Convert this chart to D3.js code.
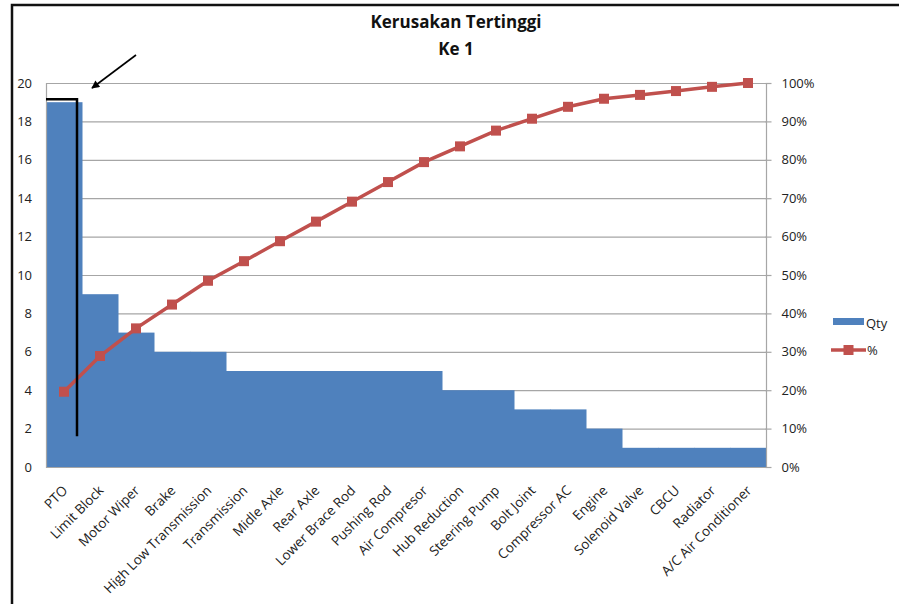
<!DOCTYPE html>
<html>
<head>
<meta charset="utf-8">
<script src="https://cdn.jsdelivr.net/npm/d3@7/dist/d3.min.js"></script>
<style>
  html, body { margin: 0; padding: 0; background: #fff; }
  svg { display: block; font-family: "Open Sans", Lato, sans-serif; }
</style>
</head>
<body>
<svg id="chart" width="899" height="604"></svg>
<script>
// Damage categories, sorted by occurrence (Pareto order)
const categories = [
  "PTO", "Limit Block", "Motor Wiper", "Brake", "High Low Transmission",
  "Transmission", "Midle Axle", "Rear Axle", "Lower Brace Rod", "Pushing Rod",
  "Air Compresor", "Hub Reduction", "Steering Pump", "Bolt Joint", "Compressor AC",
  "Engine", "Solenoid Valve", "CBCU", "Radiator", "A/C Air Conditioner"
];
// Number of occurrences per category
const qty = [19, 9, 7, 6, 6, 5, 5, 5, 5, 5, 5, 4, 4, 3, 3, 2, 1, 1, 1, 1];
// Cumulative share (%)
const cumPct = [19.6, 28.9, 36.1, 42.3, 48.5, 53.6, 58.8, 63.9, 69.1, 74.2,
                79.4, 83.5, 87.6, 90.7, 93.8, 95.9, 96.9, 97.9, 99.0, 100];
const qtyTicks = [0, 2, 4, 6, 8, 10, 12, 14, 16, 18, 20];
const pctTicks = [0, 10, 20, 30, 40, 50, 60, 70, 80, 90, 100];
const titleLines = ["Kerusakan Tertinggi", "Ke 1"];
const legendLabels = ["Qty", "%"];

const BAR = "#4F81BD", LINE = "#C0504D", GRID = "#A6A6A6", TXT = "#222";
const FS = 13;

const svg = d3.select("#chart");
const plot = { left: 46, right: 766, top: 83, bottom: 467 };

// Outer frame (top and left edges)
svg.append("path")
  .attr("d", "M12,604 V5 H899")
  .attr("fill", "none").attr("stroke", "#111").attr("stroke-width", 2.5);

const x = d3.scaleBand().domain(categories).range([plot.left, plot.right]).padding(0);
const yL = d3.scaleLinear().domain([0, 20]).range([plot.bottom, plot.top]);
const yR = d3.scaleLinear().domain([0, 100]).range([plot.bottom, plot.top]);

// Horizontal gridlines
svg.append("g").selectAll("line").data(qtyTicks.filter(d => d > 0)).join("line")
  .attr("x1", plot.left).attr("x2", plot.right)
  .attr("y1", d => yL(d) + 0.5).attr("y2", d => yL(d) + 0.5)
  .attr("stroke", GRID).attr("stroke-width", 1.2);

// Bars
svg.append("g").selectAll("rect").data(qty).join("rect")
  .attr("x", (d, i) => x(categories[i]))
  .attr("width", x.bandwidth() + 0.5)
  .attr("y", d => yL(d))
  .attr("height", d => plot.bottom - yL(d))
  .attr("fill", BAR);

// Left axis line and baseline
svg.append("line").attr("x1", plot.left + 0.5).attr("x2", plot.left + 0.5)
  .attr("y1", plot.top).attr("y2", plot.bottom + 1)
  .attr("stroke", GRID).attr("stroke-width", 1.2);
svg.append("line").attr("x1", plot.left).attr("x2", plot.right)
  .attr("y1", plot.bottom + 0.5).attr("y2", plot.bottom + 0.5)
  .attr("stroke", GRID).attr("stroke-width", 1.2);

// Left axis labels
const axL = svg.append("g").attr("transform", `translate(${plot.left - 14},0)`)
  .call(d3.axisLeft(yL).tickValues(qtyTicks).tickSize(0).tickPadding(0));
axL.select(".domain").remove();
axL.selectAll("text").attr("font-size", FS).attr("fill", TXT)
  .attr("font-family", "'Open Sans', sans-serif");

// Right axis
const axR = svg.append("g").attr("transform", `translate(${plot.right + 0.5},0)`)
  .call(d3.axisRight(yR).tickValues(pctTicks).tickSize(5).tickPadding(10)
    .tickFormat(d => d + "%"));
axR.select(".domain").attr("stroke", GRID).attr("stroke-width", 1.2)
  .attr("d", `M0,${plot.top}V${plot.bottom + 1}`);
axR.selectAll(".tick line").attr("stroke", GRID).attr("stroke-width", 1.2)
  .attr("x1", -1);
axR.selectAll("text").attr("font-size", FS).attr("fill", TXT)
  .attr("font-family", "'Open Sans', sans-serif");

// Category labels, rotated
svg.append("g").selectAll("text").data(categories).join("text")
  .attr("transform", d => `translate(${x(d) + x.bandwidth() / 2 + 1},${plot.bottom + 21}) rotate(-45)`)
  .attr("text-anchor", "end")
  .attr("dy", "0.35em")
  .attr("font-size", 13.5).attr("fill", TXT)
  .text(d => d);

// Cumulative percentage line
const line = d3.line()
  .x((d, i) => x(categories[i]) + x.bandwidth() / 2)
  .y(d => yR(d));
svg.append("path").datum(cumPct)
  .attr("d", line).attr("fill", "none")
  .attr("stroke", LINE).attr("stroke-width", 3.5);
svg.append("g").selectAll("rect").data(cumPct).join("rect")
  .attr("x", (d, i) => x(categories[i]) + x.bandwidth() / 2 - 5)
  .attr("y", d => yR(d) - 5)
  .attr("width", 10).attr("height", 10)
  .attr("fill", LINE);

// Title
svg.append("g").selectAll("text").data(titleLines).join("text")
  .attr("x", 456).attr("y", (d, i) => 28 + i * 27)
  .attr("text-anchor", "middle")
  .attr("font-size", 17).attr("font-weight", "bold").attr("fill", "#111")
  .text(d => d);

// Legend
const lg = svg.append("g");
lg.append("rect").attr("x", 833).attr("y", 318).attr("width", 31).attr("height", 7).attr("fill", BAR);
lg.append("text").attr("x", 866).attr("y", 323).attr("dy", "0.35em")
  .attr("font-size", FS).attr("fill", TXT).text(legendLabels[0]);
lg.append("line").attr("x1", 831).attr("x2", 866).attr("y1", 350).attr("y2", 350)
  .attr("stroke", LINE).attr("stroke-width", 3.5);
lg.append("rect").attr("x", 843.5).attr("y", 345).attr("width", 10).attr("height", 10).attr("fill", LINE);
lg.append("text").attr("x", 867).attr("y", 350).attr("dy", "0.35em")
  .attr("font-size", FS).attr("fill", TXT).text(legendLabels[1]);

// Highlight bracket around the top category, with pointer arrow
const bx = x(categories[0]);
svg.append("path")
  .attr("d", `M${bx},${yL(19) - 3} H${bx + x.bandwidth() - 5} V${yL(1.6)}`)
  .attr("fill", "none").attr("stroke", "#000").attr("stroke-width", 2.5);
svg.append("defs").append("marker")
  .attr("id", "arrowhead").attr("viewBox", "0 0 10 10")
  .attr("refX", 9).attr("refY", 5).attr("markerWidth", 6).attr("markerHeight", 5)
  .attr("markerUnits", "strokeWidth").attr("orient", "auto")
  .append("path").attr("d", "M0,0 L10,5 L0,10 Z").attr("fill", "#000");
svg.append("line")
  .attr("x1", 136).attr("y1", 55).attr("x2", 92).attr("y2", 88)
  .attr("stroke", "#000").attr("stroke-width", 1.6)
  .attr("marker-end", "url(#arrowhead)");
</script>
</body>
</html>
